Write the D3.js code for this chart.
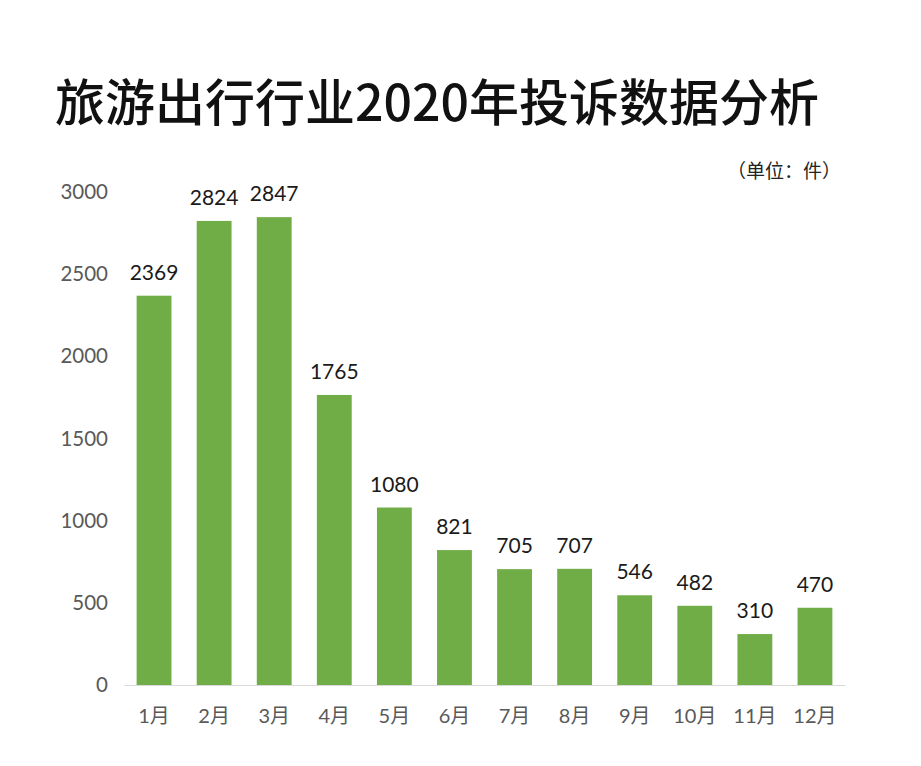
<!DOCTYPE html>
<html>
<head>
<meta charset="utf-8">
<script src="https://cdn.jsdelivr.net/npm/d3@7/dist/d3.min.js"></script>
<style>
  html, body { margin: 0; padding: 0; background: #fff; }
  svg { display: block; }
</style>
</head>
<body>
<svg id="chart" width="921" height="766"></svg>
<script>
const title = "旅游出行行业2020年投诉数据分析";
const unitLabel = "（单位：件）";
const months = ["1月","2月","3月","4月","5月","6月","7月","8月","9月","10月","11月","12月"];
const complaints = [2369, 2824, 2847, 1765, 1080, 821, 705, 707, 546, 482, 310, 470];
const yTicks = [0, 500, 1000, 1500, 2000, 2500, 3000];

const svg = d3.select("#chart");
const plotLeft = 124, plotRight = 845, plotTop = 192, plotBottom = 685;

const x = d3.scaleBand().domain(months).range([plotLeft, plotRight]).paddingInner(0.42).paddingOuter(0.21);
const y = d3.scaleLinear().domain([0, 3000]).range([plotBottom, plotTop]);

const latin = "Lato, 'Noto Sans CJK SC', sans-serif";

svg.append("text")
  .attr("x", 437).attr("y", 121)
  .attr("text-anchor", "middle")
  .attr("font-family", "'Noto Sans CJK SC', sans-serif")
  .attr("font-weight", 500)
  .attr("font-size", 50)
  .attr("fill", "#111")
  .text(title);

svg.append("text")
  .attr("x", 841).attr("y", 178)
  .attr("text-anchor", "end")
  .attr("font-family", "'Noto Sans CJK SC', sans-serif")
  .attr("font-size", 19)
  .attr("fill", "#222")
  .text(unitLabel);

// y axis labels
const yAxis = d3.axisLeft(y).tickValues(yTicks).tickFormat(d3.format("d")).tickSize(0).tickPadding(0);
const yg = svg.append("g").attr("transform", `translate(108,0)`).call(yAxis);
yg.select(".domain").remove();
yg.selectAll("text")
  .attr("font-family", latin)
  .attr("font-size", 20.5)
  .attr("fill", "#595959");

// bars
svg.append("g").selectAll("rect")
  .data(complaints)
  .join("rect")
  .attr("x", (d, i) => x(months[i]))
  .attr("width", x.bandwidth())
  .attr("y", d => y(d))
  .attr("height", d => y(0) - y(d))
  .attr("fill", "#70AD47");

// value labels
svg.append("g").selectAll("text")
  .data(complaints)
  .join("text")
  .attr("x", (d, i) => x(months[i]) + x.bandwidth() / 2)
  .attr("y", d => y(d) - 16)
  .attr("text-anchor", "middle")
  .attr("font-family", latin)
  .attr("font-size", 21)
  .attr("fill", "#1a1a1a")
  .text(d => d);

// x axis
const xAxis = d3.axisBottom(x).tickSize(0).tickPadding(0);
const xg = svg.append("g").attr("transform", `translate(0,${plotBottom})`).call(xAxis);
xg.select(".domain").attr("stroke", "#d9d9d9").attr("stroke-width", 1.2);
xg.selectAll("text")
  .attr("dy", 0)
  .attr("y", 38)
  .attr("font-family", latin)
  .attr("font-size", 20)
  .attr("fill", "#595959");
</script>
</body>
</html>
